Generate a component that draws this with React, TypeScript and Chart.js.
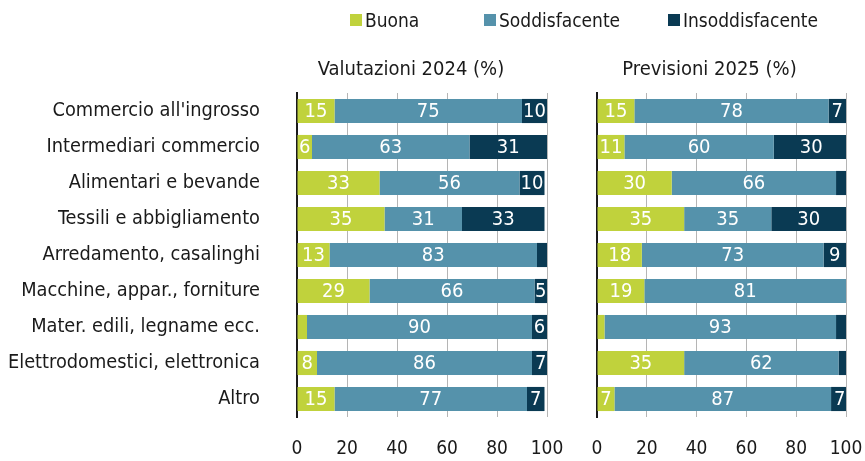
import React, { useEffect, useRef } from "react";
import { Chart, registerables } from "chart.js";

Chart.register(...registerables);

const categories = [
  "Commercio all'ingrosso",
  "Intermediari commercio",
  "Alimentari e bevande",
  "Tessili e abbigliamento",
  "Arredamento, casalinghi",
  "Macchine, appar., forniture",
  "Mater. edili, legname ecc.",
  "Elettrodomestici, elettronica",
  "Altro",
];
const seriesNames = ["Buona", "Soddisfacente", "Insoddisfacente"];
const buona2024 = [15, 6, 33, 35, 13, 29, 4, 8, 15];
const sodd2024 = [75, 63, 56, 31, 83, 66, 90, 86, 77];
const insodd2024 = [10, 31, 10, 33, 4, 5, 6, 7, 7];
const buona2025 = [15, 11, 30, 35, 18, 19, 3, 35, 7];
const sodd2025 = [78, 60, 66, 35, 73, 81, 93, 62, 87];
const insodd2025 = [7, 30, 4, 30, 9, 0, 4, 3, 7];
const panelTitles = ["Valutazioni 2024 (%)", "Previsioni 2025 (%)"];

const COLORS = ["#c0d23c", "#5592ab", "#0a3a53"];
const FONT = "'Liberation Sans Narrow', 'DejaVu Sans Condensed', 'Liberation Sans', sans-serif";
const TEXT = "#1a1a1a";

const labelPlugin = {
  id: "barLabels",
  afterDatasetsDraw(chart: any) {
    const ctx = chart.ctx;
    ctx.save();
    ctx.font = `20px ${FONT}`;
    ctx.fillStyle = "#ffffff";
    ctx.textAlign = "center";
    ctx.textBaseline = "middle";
    chart.data.datasets.forEach((ds: any, i: number) => {
      const meta = chart.getDatasetMeta(i);
      meta.data.forEach((bar: any, j: number) => {
        const v = ds.data[j];
        if (v < 5) return;
        const p = bar.getProps(["x", "y", "base"], true);
        ctx.fillText(String(v), (p.x + p.base) / 2, p.y + 1);
      });
    });
    ctx.restore();
  },
};

function makeConfig(data: number[][], showLabels: boolean, yWidth: number, rightPad: number): any {
  return {
    type: "bar",
    data: {
      labels: categories,
      datasets: seriesNames.map((name, i) => ({
        label: name,
        data: data[i],
        backgroundColor: COLORS[i],
        borderWidth: 0,
        barPercentage: 0.67,
        categoryPercentage: 1,
      })),
    },
    plugins: [labelPlugin],
    options: {
      indexAxis: "y",
      responsive: false,
      animation: false,
      layout: { padding: { top: 93, right: rightPad, bottom: 0, left: 0 } },
      plugins: { legend: { display: false }, tooltip: { enabled: false }, title: { display: false } },
      scales: {
        x: {
          stacked: true,
          min: 0,
          max: 100,
          ticks: { stepSize: 20, color: TEXT, font: { size: 19, family: FONT }, padding: 21 },
          grid: { color: "#b5b5b5", lineWidth: 1, drawTicks: false },
          border: { display: false },
          afterFit: (s: any) => { s.height = 44; s.paddingLeft = 0; s.paddingRight = 0; },
        },
        y: {
          stacked: true,
          ticks: { display: showLabels, color: TEXT, font: { size: 19.8, family: FONT }, padding: 37 },
          grid: { display: false, drawTicks: false },
          border: { display: true, color: "#1a1a1a", width: 2 },
          afterFit: (s: any) => { s.width = yWidth; s.paddingTop = 0; s.paddingBottom = 0; },
        },
      },
    },
  };
}

function Panel({ data, showLabels, left, width, yWidth, rightPad }: any) {
  const ref = useRef<HTMLCanvasElement>(null);
  useEffect(() => {
    const chart = new Chart(ref.current as HTMLCanvasElement, makeConfig(data, showLabels, yWidth, rightPad));
    return () => chart.destroy();
  }, []);
  return (
    <canvas
      ref={ref}
      width={width}
      height={461}
      style={{ position: "absolute", left, top: 0, width, height: 461 }}
    />
  );
}

export default function App() {
  const textStyle: any = { position: "absolute", fontFamily: FONT, fontSize: 19, color: TEXT, whiteSpace: "nowrap", lineHeight: "22px" };
  const legendX = [350, 484, 668];
  return (
    <div style={{ position: "absolute", left: 0, top: 0, width: 865, height: 461, background: "#fff", overflow: "hidden" }}>
      <Panel data={[buona2024, sodd2024, insodd2024]} showLabels={true} left={0} width={565} yWidth={297} rightPad={18} />
      <Panel data={[buona2025, sodd2025, insodd2025]} showLabels={false} left={565} width={300} yWidth={32} rightPad={19} />
      {seriesNames.map((n, i) => (
        <div key={n} style={{ ...textStyle, left: legendX[i], top: 9, display: "flex", alignItems: "center" }}>
          <span style={{ display: "inline-block", width: 12, height: 12, background: COLORS[i], marginRight: 3 }} />
          <span>{n}</span>
        </div>
      ))}
      <div style={{ ...textStyle, fontSize: 20, left: 286, width: 250, top: 57, textAlign: "center" }}>{panelTitles[0]}</div>
      <div style={{ ...textStyle, fontSize: 20, left: 585, width: 249, top: 57, textAlign: "center" }}>{panelTitles[1]}</div>
    </div>
  );
}
